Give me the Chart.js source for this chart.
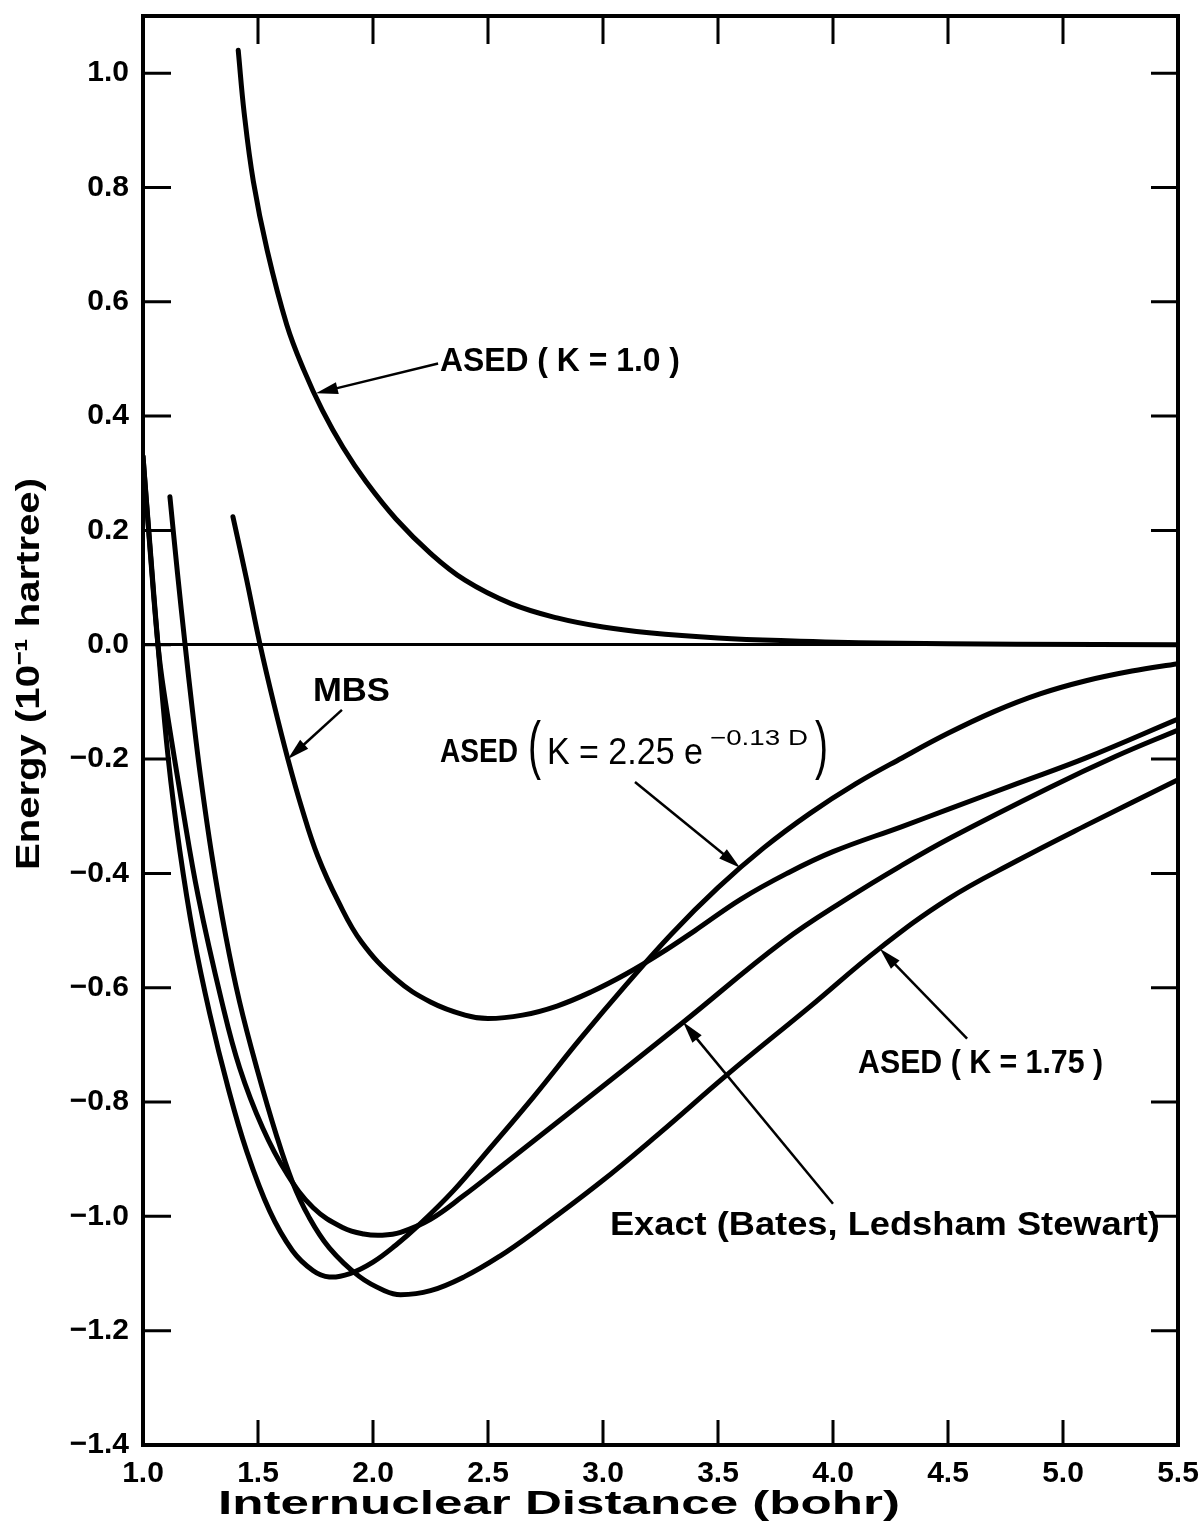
<!DOCTYPE html>
<html>
<head>
<meta charset="utf-8">
<script src="https://cdn.jsdelivr.net/npm/chart.js@4.4.1/dist/chart.umd.min.js"></script>
<style>
  html, body { margin: 0; padding: 0; background: #fff; }
  canvas { display: block; }
</style>
</head>
<body>
<canvas id="chart" width="1203" height="1526"></canvas>
<script>
// tick values
const xTicks = [1.0, 1.5, 2.0, 2.5, 3.0, 3.5, 4.0, 4.5, 5.0, 5.5];
const yTicks = [-1.4, -1.2, -1.0, -0.8, -0.6, -0.4, -0.2, 0.0, 0.2, 0.4, 0.6, 0.8, 1.0];

// ASED (K = 1.0)
const asedK1X = [1.414, 1.44, 1.48, 1.54, 1.625, 1.70, 1.78, 1.87, 1.97, 2.1, 2.25, 2.4, 2.6, 2.8, 3.0, 3.2, 3.5, 3.8, 4.2, 4.8, 5.5];
const asedK1Y = [1.04, 0.93, 0.81, 0.69, 0.56, 0.48, 0.41, 0.345, 0.285, 0.22, 0.16, 0.113, 0.072, 0.047, 0.031, 0.021, 0.012, 0.007, 0.003, 0.001, 0.0];

// MBS
const mbsX = [1.391, 1.45, 1.509, 1.57, 1.63, 1.69, 1.76, 1.85, 1.95, 2.1, 2.25, 2.4, 2.5, 2.65, 2.8, 2.95, 3.1, 3.25, 3.4, 3.6, 3.8, 4.0, 4.3, 4.5, 4.8, 5.1, 5.5];
const mbsY = [0.224, 0.115, 0.0, -0.105, -0.2, -0.285, -0.37, -0.45, -0.52, -0.585, -0.625, -0.648, -0.654, -0.648, -0.632, -0.607, -0.576, -0.54, -0.5, -0.445, -0.4, -0.362, -0.318, -0.288, -0.243, -0.198, -0.13];

// ASED (K = 2.25 e^-0.13D)
const asedExpX = [1.0, 1.03, 1.065, 1.11, 1.16, 1.22, 1.29, 1.37, 1.45, 1.55, 1.65, 1.74, 1.81, 1.9, 2.0, 2.1, 2.2, 2.35, 2.5, 2.7, 2.9, 3.1, 3.3, 3.5, 3.7, 3.9, 4.1, 4.3, 4.5, 4.7, 4.9, 5.1, 5.3, 5.5];
const asedExpY = [0.33, 0.175, 0.0, -0.2, -0.36, -0.51, -0.645, -0.775, -0.885, -0.99, -1.06, -1.095, -1.106, -1.1, -1.08, -1.05, -1.015, -0.955, -0.885, -0.79, -0.69, -0.595, -0.505, -0.425, -0.355, -0.295, -0.243, -0.198, -0.155, -0.117, -0.086, -0.063, -0.046, -0.033];

// ASED (K = 1.75)
const asedK175X = [1.117, 1.15, 1.183, 1.215, 1.25, 1.30, 1.36, 1.42, 1.495, 1.58, 1.65, 1.72, 1.81, 1.94, 2.05, 2.12, 2.25, 2.4, 2.55, 2.7, 2.99, 3.25, 3.54, 3.9, 4.2, 4.5, 4.8, 5.1, 5.5];
const asedK175Y = [0.259, 0.125, 0.0, -0.115, -0.23, -0.37, -0.51, -0.625, -0.741, -0.858, -0.94, -1.0, -1.055, -1.105, -1.13, -1.137, -1.13, -1.105, -1.07, -1.028, -0.94, -0.853, -0.752, -0.633, -0.532, -0.445, -0.378, -0.316, -0.236];

// Exact (Bates, Ledsham, Stewart)
const exactX = [1.0, 1.03, 1.065, 1.09, 1.17, 1.24, 1.343, 1.42, 1.52, 1.625, 1.74, 1.87, 1.96, 2.04, 2.12, 2.25, 2.39, 2.55, 2.84, 3.35, 3.78, 4.07, 4.29, 4.51, 4.94, 5.23, 5.5];
const exactY = [0.33, 0.17, 0.0, -0.08, -0.28, -0.44, -0.625, -0.74, -0.845, -0.925, -0.985, -1.02, -1.031, -1.033, -1.028, -1.005, -0.965, -0.915, -0.823, -0.66, -0.52, -0.442, -0.388, -0.338, -0.25, -0.195, -0.149];

const FONT = '"Liberation Sans", Arial, sans-serif';

function curve(label, xs, ys) {
  return {
    label: label,
    data: xs.map((x, i) => ({ x: x, y: ys[i] })),
    showLine: true,
    borderColor: '#000',
    borderWidth: 5,
    borderCapStyle: 'round',
    borderJoinStyle: 'round',
    pointRadius: 0,
    tension: 0.4,
    fill: false
  };
}

// draw text squeezed/stretched to a given width
function fitText(ctx, text, left, cy, width, font) {
  ctx.font = font;
  const w = ctx.measureText(text).width;
  ctx.save();
  ctx.translate(left, cy);
  ctx.scale(width / w, 1);
  ctx.textAlign = 'left';
  ctx.textBaseline = 'middle';
  ctx.fillText(text, 0, 0);
  ctx.restore();
}

function arrow(ctx, x1, y1, x2, y2) {
  const ang = Math.atan2(y2 - y1, x2 - x1);
  const len = 22, half = 6;
  ctx.lineWidth = 2.5;
  ctx.beginPath();
  ctx.moveTo(x1, y1);
  ctx.lineTo(x2 - Math.cos(ang) * len * 0.8, y2 - Math.sin(ang) * len * 0.8);
  ctx.stroke();
  ctx.beginPath();
  ctx.moveTo(x2, y2);
  ctx.lineTo(x2 - Math.cos(ang) * len - Math.sin(ang) * half, y2 - Math.sin(ang) * len + Math.cos(ang) * half);
  ctx.lineTo(x2 - Math.cos(ang) * len + Math.sin(ang) * half, y2 - Math.sin(ang) * len - Math.cos(ang) * half);
  ctx.closePath();
  ctx.fill();
}

const decorations = {
  id: 'decorations',
  afterDraw(chart) {
    const { ctx, chartArea: a, scales } = chart;
    const X = v => scales.x.getPixelForValue(v);
    const Y = v => scales.y.getPixelForValue(v);
    ctx.save();
    ctx.strokeStyle = '#000';
    ctx.fillStyle = '#000';

    // frame
    ctx.lineWidth = 4;
    ctx.strokeRect(a.left, a.top, a.right - a.left, a.bottom - a.top);

    // inward ticks on all four sides
    ctx.lineWidth = 3;
    ctx.beginPath();
    yTicks.forEach(v => {
      if (v <= -1.4) return;
      const py = Y(v);
      ctx.moveTo(a.left, py); ctx.lineTo(a.left + 28, py);
      ctx.moveTo(a.right - 27, py); ctx.lineTo(a.right, py);
    });
    xTicks.forEach(v => {
      if (v <= 1.0 || v >= 5.5) return;
      const px = X(v);
      ctx.moveTo(px, a.bottom); ctx.lineTo(px, a.bottom - 25);
      ctx.moveTo(px, a.top); ctx.lineTo(px, a.top + 28);
    });
    ctx.stroke();

    // curve labels and arrows
    const bold = sz => 'bold ' + sz + 'px ' + FONT;
    const plain = sz => sz + 'px ' + FONT;

    fitText(ctx, 'ASED ( K = 1.0 )', X(2.291), Y(0.495), 240, bold(34));
    arrow(ctx, X(2.283), Y(0.492), X(1.752), Y(0.44));

    fitText(ctx, 'MBS', X(1.739), Y(-0.082), 77, bold(34));
    arrow(ctx, X(1.865), Y(-0.114), X(1.63), Y(-0.2));

    const lx = X(2.291), ly = Y(-0.189);
    fitText(ctx, 'ASED', lx, ly, 78, bold(34));
    fitText(ctx, '(', lx + 88, ly - 3, 13, plain(64));
    fitText(ctx, 'K = 2.25 e', lx + 107, ly + 1, 156, plain(36));
    fitText(ctx, '\u22120.13 D', lx + 270, ly - 14, 98, plain(22));
    fitText(ctx, ')', lx + 375, ly - 3, 13, plain(64));
    arrow(ctx, X(3.139), Y(-0.24), X(3.596), Y(-0.39));

    fitText(ctx, 'ASED ( K = 1.75 )', X(4.109), Y(-0.733), 245, bold(34));
    arrow(ctx, X(4.583), Y(-0.689), X(4.204), Y(-0.532));

    fitText(ctx, 'Exact (Bates, Ledsham Stewart)', X(3.03), Y(-1.017), 550, bold(34));
    arrow(ctx, X(4.0), Y(-0.978), X(3.348), Y(-0.66));

    // axis titles
    fitText(ctx, 'Internuclear Distance (bohr)', 218, 1505, 682, bold(34));
    ctx.save();
    ctx.translate(30, 674);
    ctx.rotate(-Math.PI / 2);
    fitText(ctx, 'Energy (10\u207B\u00B9 hartree)', -196, 0, 392, bold(33));
    ctx.restore();

    ctx.restore();
  }
};

const tickLabel = v => (v < 0 ? '\u2212' : '') + Math.abs(v).toFixed(1);

new Chart(document.getElementById('chart'), {
  type: 'scatter',
  data: {
    datasets: [
      curve('ASED (K = 1.0)', asedK1X, asedK1Y),
      curve('MBS', mbsX, mbsY),
      curve('ASED (K = 2.25 e^-0.13D)', asedExpX, asedExpY),
      curve('ASED (K = 1.75)', asedK175X, asedK175Y),
      curve('Exact (Bates, Ledsham Stewart)', exactX, exactY)
    ]
  },
  options: {
    responsive: false,
    animation: false,
    devicePixelRatio: 1,
    layout: { padding: { top: 16, right: 25, left: 0, bottom: 0 } },
    plugins: { legend: { display: false }, tooltip: { enabled: false } },
    scales: {
      x: {
        type: 'linear',
        position: 'bottom',
        min: 1.0,
        max: 5.5,
        afterBuildTicks: axis => { axis.ticks = xTicks.map(v => ({ value: v })); },
        afterFit: axis => { axis.height = 81; axis.paddingLeft = 0; axis.paddingRight = 0; },
        grid: { display: false },
        border: { display: false },
        ticks: {
          color: '#000',
          padding: 3,
          maxRotation: 0,
          font: { family: FONT, size: 30, weight: 'bold' },
          callback: tickLabel
        }
      },
      y: {
        type: 'linear',
        min: -1.4,
        max: 1.1,
        afterBuildTicks: axis => { axis.ticks = yTicks.map(v => ({ value: v })); },
        afterFit: axis => { axis.width = 143; axis.paddingTop = 0; axis.paddingBottom = 0; },
        grid: {
          drawTicks: false,
          lineWidth: 3,
          color: c => (c.tick && c.tick.value === 0 ? '#000' : 'rgba(0,0,0,0)')
        },
        border: { display: false },
        ticks: {
          color: '#000',
          padding: 14,
          font: { family: FONT, size: 30, weight: 'bold' },
          callback: tickLabel
        }
      }
    }
  },
  plugins: [decorations]
});
</script>
</body>
</html>
